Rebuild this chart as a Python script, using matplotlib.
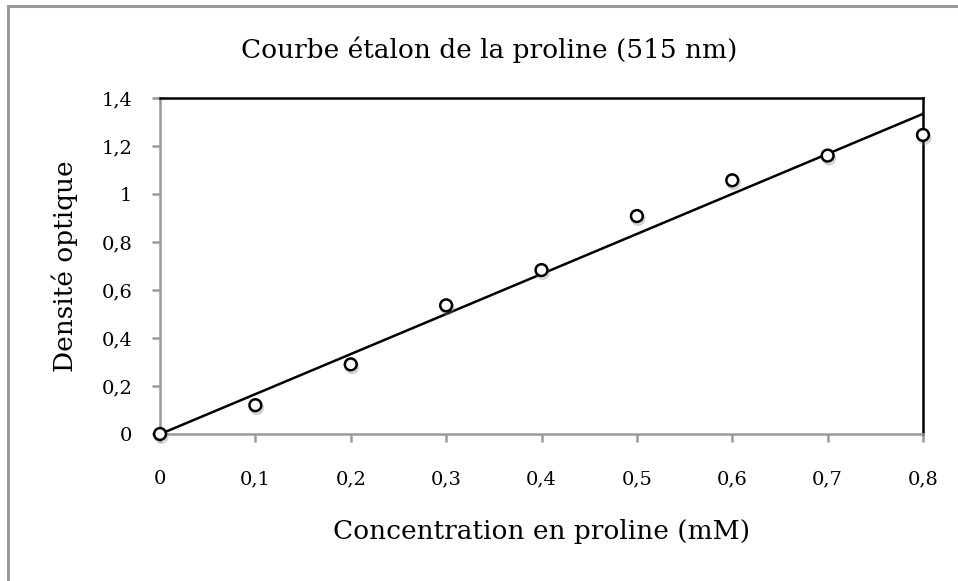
import numpy as np
import matplotlib
matplotlib.use("Agg")
import matplotlib.pyplot as plt
import matplotlib.patheffects as pe
from matplotlib.lines import Line2D
from matplotlib.ticker import FuncFormatter

# proline standard curve
concentration = [0.0, 0.1, 0.2, 0.3, 0.4, 0.5, 0.6, 0.7, 0.8]
absorbance = [0.0, 0.12, 0.29, 0.536, 0.683, 0.908, 1.057, 1.16, 1.246]
x_ticks = [0, 0.1, 0.2, 0.3, 0.4, 0.5, 0.6, 0.7, 0.8]
y_ticks = [0, 0.2, 0.4, 0.6, 0.8, 1.0, 1.2, 1.4]

plt.rcParams['font.family'] = ['DejaVu Serif']

fig = plt.figure(figsize=(9.58, 5.81), dpi=100)
ax = fig.add_axes([160 / 958, 1 - 434 / 581, 763 / 958, 336 / 581])

# linear trendline (least squares)
slope, intercept = np.polyfit(concentration, absorbance, 1)
xs = np.array([min(concentration), max(concentration)])
ax.plot(xs, slope * xs + intercept, color='black', lw=1.8, zorder=2)

ax.plot(concentration, absorbance, linestyle='none', marker='o', ms=8.5,
        mfc='white', mec='black', mew=1.8, zorder=3, clip_on=False,
        path_effects=[pe.SimpleLineShadow(offset=(1, -2), shadow_color='grey', alpha=0.35),
                      pe.Normal()])

ax.set_xlim(0, 0.8)
ax.set_ylim(0, 1.4)
ax.set_xticks(x_ticks)
ax.set_yticks(y_ticks)

fmt = FuncFormatter(lambda v, p: ('%g' % round(v, 2)).replace('.', ','))
ax.xaxis.set_major_formatter(fmt)
ax.yaxis.set_major_formatter(fmt)

for side in ['left', 'bottom']:
    ax.spines[side].set_color('#999999')
    ax.spines[side].set_linewidth(1.8)
for side in ['top', 'right']:
    ax.spines[side].set_color('black')
    ax.spines[side].set_linewidth(1.8)

ax.tick_params(axis='both', direction='out', length=6, width=1.8, color='#999999',
               labelsize=14)
ax.tick_params(axis='x', pad=20)
ax.tick_params(axis='y', pad=14)

ax.set_xlabel('Concentration en proline (mM)', fontsize=19, labelpad=22)
ax.set_ylabel('Densité optique', fontsize=19, labelpad=17)
fig.text(489 / 958, 1 - 50 / 581, 'Courbe étalon de la proline (515 nm)',
         fontsize=19, ha='center', va='center')

# chart area border (only top and left visible)
fig.add_artist(Line2D([8 / 958, 8 / 958], [0, 1 - 6 / 581], transform=fig.transFigure,
                      color='#999999', lw=2.2))
fig.add_artist(Line2D([8 / 958, 1], [1 - 6 / 581, 1 - 6 / 581], transform=fig.transFigure,
                      color='#999999', lw=2.2))

fig.savefig('out.png', dpi=100)
